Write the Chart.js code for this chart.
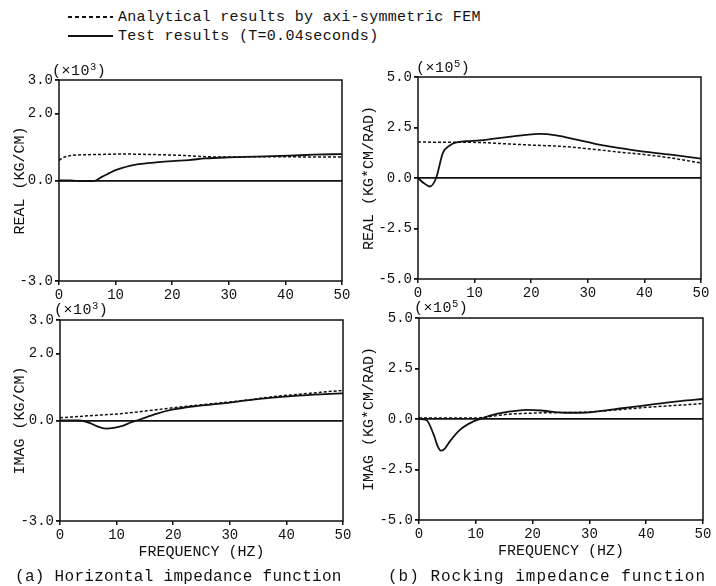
<!DOCTYPE html>
<html>
<head>
<meta charset="utf-8">
<script src="https://cdn.jsdelivr.net/npm/chart.js@4.4.1/dist/chart.umd.min.js"></script>
<style>
  body { margin: 0; background: #fff; }
  #page { position: relative; width: 716px; height: 586px; font-family: "Liberation Mono", "DejaVu Sans Mono", monospace; color: #111; }
  .panel { position: absolute; }
  .txt { position: absolute; white-space: nowrap; line-height: 1; }
  .leg { position: absolute; left: 68px; width: 45px; height: 1.5px; }
  .mult { font-size: 15px; letter-spacing: 0.5px; }
  sup { font-size: 70%; vertical-align: 0.45em; }
</style>
</head>
<body>
<div id="page">
  <div class="leg" style="top:16px; background: repeating-linear-gradient(90deg, #111 0 4px, transparent 4px 7px);"></div>
  <div class="txt" style="left:118px; top:10px; font-size:15px; letter-spacing:0.3px;">Analytical results by axi-symmetric FEM</div>
  <div class="leg" style="top:35px; background:#111;"></div>
  <div class="txt" style="left:118px; top:29px; font-size:15px; letter-spacing:0.3px;">Test results (T=0.04seconds)</div>

  <div class="panel" style="left:0; top:60px;"><canvas id="hReal" width="358" height="245"></canvas></div>
  <div class="panel" style="left:358px; top:60px;"><canvas id="rReal" width="358" height="245"></canvas></div>
  <div class="panel" style="left:0; top:300px;"><canvas id="hImag" width="358" height="286"></canvas></div>
  <div class="panel" style="left:358px; top:300px;"><canvas id="rImag" width="358" height="286"></canvas></div>

  <div class="txt mult" style="left:52px; top:62px;">(×10<sup>3</sup>)</div>
  <div class="txt mult" style="left:416px; top:59px;">(×10<sup>5</sup>)</div>
  <div class="txt mult" style="left:54px; top:301px;">(×10<sup>3</sup>)</div>
  <div class="txt mult" style="left:414px; top:299px;">(×10<sup>5</sup>)</div>

  <div class="txt" style="left:15px; top:569px; font-size:16px; letter-spacing:0.3px;">(a) Horizontal impedance function</div>
  <div class="txt" style="left:388px; top:569px; font-size:16px; letter-spacing:1px;">(b) Rocking impedance function</div>
</div>
<script>
// x axis
const freqTicks = [0, 10, 20, 30, 40, 50];
const horizTicks = [-3, 0, 2, 3];
const rockTicks = [-5, -2.5, 0, 2.5, 5];

// horizontal, real part (x10^3 kg/cm)
const hRealFemHz = [0, 1, 2.4, 5, 8, 11, 15, 20, 23, 26, 30, 35, 40, 45, 50];
const hRealFem = [0.61, 0.70, 0.75, 0.77, 0.78, 0.79, 0.78, 0.76, 0.74, 0.71, 0.70, 0.71, 0.71, 0.70, 0.70];
const hRealTestHz = [0, 2, 4, 6, 6.5, 7.5, 8.9, 10, 11.2, 12.5, 14.1, 17.1, 20, 22.9, 25.9, 30, 34.7, 40.6, 45, 50];
const hRealTest = [0, 0, -0.02, -0.02, 0, 0.1, 0.22, 0.31, 0.38, 0.44, 0.49, 0.54, 0.58, 0.61, 0.66, 0.69, 0.71, 0.74, 0.77, 0.79];

// rocking, real part (x10^5 kg*cm/rad)
const rRealFemHz = [0, 5, 10.9, 15, 20, 25.6, 30, 35, 40.3, 45, 50];
const rRealFem = [1.78, 1.77, 1.76, 1.70, 1.63, 1.56, 1.45, 1.30, 1.15, 0.98, 0.74];
const rRealTestHz = [0, 1, 2.1, 3.2, 4.4, 5.6, 6.8, 8.5, 10.9, 13.5, 16.8, 19, 21.5, 24.4, 28, 31.5, 36, 40.3, 45, 50];
const rRealTest = [0, -0.25, -0.42, 0, 1.24, 1.61, 1.76, 1.82, 1.86, 1.95, 2.06, 2.13, 2.18, 2.11, 1.90, 1.68, 1.47, 1.29, 1.14, 0.96];

// horizontal, imaginary part
const hImagFemHz = [0, 5, 11.2, 15, 20, 25, 28.8, 33, 37.6, 42, 46, 50];
const hImagFem = [0.08, 0.14, 0.21, 0.28, 0.38, 0.47, 0.53, 0.61, 0.71, 0.78, 0.84, 0.90];
const hImagTestHz = [0, 2, 3.4, 5.2, 6.5, 8.1, 9.5, 11.2, 12.5, 14.1, 17, 20, 24, 28.8, 33, 37.6, 42, 46, 50];
const hImagTest = [0, 0, 0, -0.07, -0.17, -0.24, -0.22, -0.15, -0.06, 0.03, 0.2, 0.33, 0.43, 0.51, 0.6, 0.68, 0.74, 0.78, 0.81];

// rocking, imaginary part
const rImagFemHz = [0, 5, 10, 12.5, 15.4, 18, 22.6, 28.4, 34.3, 40.2, 46.1, 50];
const rImagFem = [0.05, 0.05, 0.05, 0.12, 0.23, 0.27, 0.31, 0.33, 0.44, 0.58, 0.69, 0.77];
const rImagTestHz = [0, 1.3, 2.5, 3.3, 3.9, 4.6, 5.4, 7.2, 9.5, 11.3, 13, 14.8, 17, 19, 21.5, 23.7, 26, 28.4, 31, 34.3, 37, 40.2, 43, 46.1, 50];
const rImagTest = [0, -0.05, -0.71, -1.35, -1.57, -1.45, -1.12, -0.54, -0.13, 0.05, 0.2, 0.31, 0.4, 0.45, 0.42, 0.35, 0.31, 0.31, 0.36, 0.48, 0.58, 0.69, 0.79, 0.89, 0.99];

const INK = '#111';
const MONO = "'Liberation Mono', 'DejaVu Sans Mono', monospace";

const pts = (xs, ys) => xs.map((x, i) => ({ x: x, y: ys[i] }));

// box round the plot area
const framePlugin = {
    id: 'frame',
    afterDatasetsDraw(chart) {
        const { ctx, chartArea: a } = chart;
        ctx.save();
        ctx.strokeStyle = INK;
        ctx.lineWidth = 1.5;
        ctx.strokeRect(a.left, a.top, a.right - a.left, a.bottom - a.top);
        ctx.restore();
    }
};

function makePanel(id, o) {
    const ctx = document.getElementById(id).getContext('2d');
    return new Chart(ctx, {
        type: 'line',
        data: {
            datasets: [
                {
                    label: 'Analytical results by axi-symmetric FEM',
                    data: pts(o.femX, o.femY),
                    borderColor: INK,
                    borderWidth: 1.5,
                    borderDash: [3, 2],
                    pointRadius: 0,
                    cubicInterpolationMode: 'monotone',
                    fill: false,
                },
                {
                    label: 'Test results (T=0.04seconds)',
                    data: pts(o.testX, o.testY),
                    borderColor: INK,
                    borderWidth: 1.8,
                    pointRadius: 0,
                    cubicInterpolationMode: 'monotone',
                    fill: false,
                }
            ]
        },
        options: {
            responsive: false,
            animation: false,
            devicePixelRatio: 1,
            layout: { padding: { left: 0, top: o.padTop, right: o.padRight, bottom: o.padBottom } },
            plugins: { legend: { display: false }, tooltip: { enabled: false } },
            scales: {
                x: {
                    type: 'linear',
                    min: 0,
                    max: 50,
                    afterBuildTicks: (s) => { s.ticks = freqTicks.map(v => ({ value: v })); },
                    afterFit: (s) => { s.height = o.xHeight; },
                    grid: { color: 'transparent', tickColor: INK, tickLength: 4, lineWidth: 1.5 },
                    border: { display: false },
                    ticks: { color: INK, font: { family: MONO, size: 14 }, padding: 2, maxRotation: 0 },
                    title: {
                        display: !!o.xTitle,
                        text: o.xTitle || '',
                        color: INK,
                        font: { family: MONO, size: 15 },
                        padding: { top: 0, bottom: 0 }
                    }
                },
                y: {
                    type: 'linear',
                    min: o.yTicks[0],
                    max: o.yTicks[o.yTicks.length - 1],
                    afterBuildTicks: (s) => { s.ticks = o.yTicks.map(v => ({ value: v })); },
                    afterFit: (s) => { s.width = o.yWidth; },
                    grid: {
                        color: (c) => (c.tick && c.tick.value === 0 ? INK : 'transparent'),
                        tickColor: INK,
                        tickLength: 4,
                        lineWidth: 1.8
                    },
                    border: { display: false },
                    ticks: {
                        color: INK,
                        font: { family: MONO, size: 14 },
                        padding: 2,
                        callback: (v) => Number(v).toFixed(1)
                    },
                    title: {
                        display: true,
                        text: o.yTitle,
                        color: INK,
                        font: { family: MONO, size: 15 },
                        padding: { top: o.yTitlePad, bottom: 0 }
                    }
                }
            }
        },
        plugins: [framePlugin]
    });
}

makePanel('hReal', {
    femX: hRealFemHz, femY: hRealFem, testX: hRealTestHz, testY: hRealTest,
    yTicks: horizTicks, yTitle: 'REAL (KG/CM)',
    yWidth: 59, yTitlePad: 11, padTop: 20, padRight: 16, padBottom: 0, xHeight: 24
});
makePanel('rReal', {
    femX: rRealFemHz, femY: rRealFem, testX: rRealTestHz, testY: rRealTest,
    yTicks: rockTicks, yTitle: 'REAL (KG*CM/RAD)',
    yWidth: 60, yTitlePad: 2, padTop: 17, padRight: 15, padBottom: 0, xHeight: 26
});
makePanel('hImag', {
    femX: hImagFemHz, femY: hImagFem, testX: hImagTestHz, testY: hImagTest,
    yTicks: horizTicks, yTitle: 'IMAG (KG/CM)', xTitle: 'FREQUENCY (HZ)',
    yWidth: 60, yTitlePad: 11, padTop: 20, padRight: 15, padBottom: 25, xHeight: 40
});
makePanel('rImag', {
    femX: rImagFemHz, femY: rImagFem, testX: rImagTestHz, testY: rImagTest,
    yTicks: rockTicks, yTitle: 'IMAG (KG*CM/RAD)', xTitle: 'FREQUENCY (HZ)',
    yWidth: 61, yTitlePad: 2, padTop: 18, padRight: 13, padBottom: 26, xHeight: 40
});
</script>
</body>
</html>
